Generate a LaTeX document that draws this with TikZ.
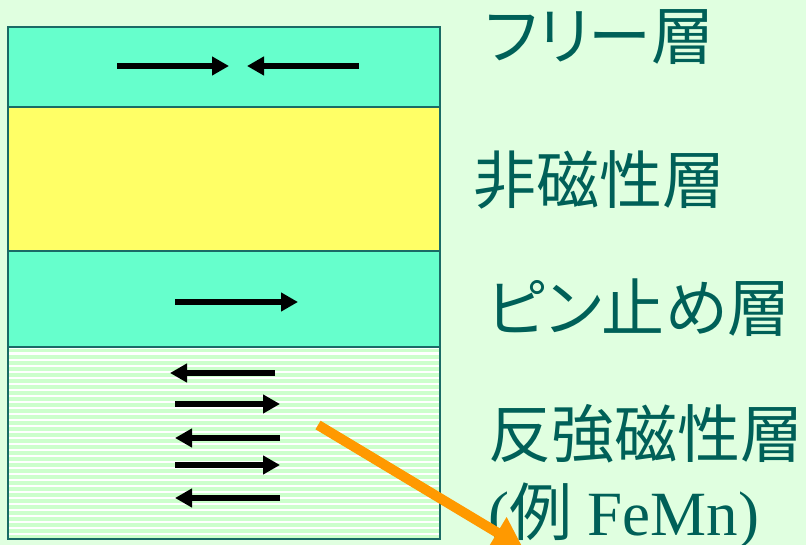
\documentclass[tikz,border=0pt]{standalone}
\usepackage{fontspec}
\setmainfont{Liberation Serif}
\newfontfamily\jp{Noto Sans CJK JP}
\newfontfamily\jpp[RawFeature=+palt]{Noto Sans CJK JP}
\usetikzlibrary{arrows.meta}
\definecolor{bgc}{HTML}{E0FFE0}
\definecolor{ferro}{HTML}{66FFCC}
\definecolor{nonmag}{HTML}{FFFF66}
\definecolor{stripec}{HTML}{CCFFCC}
\definecolor{edgec}{HTML}{1A6B66}
\definecolor{txtc}{HTML}{006058}
\definecolor{orangec}{HTML}{FF9900}
\tikzset{
  layer/.style={draw=edgec, line width=2pt},
  spin/.style={line width=5.5pt, -{Triangle[length=17pt,width=18pt]}},
  lbl/.style={text=txtc, inner sep=0pt, font=\jp\fontsize{63}{63}\selectfont},
  pointer/.style={draw=orangec, line width=10pt, -{Triangle[length=30pt,width=34pt]}}
}
\begin{document}
\begin{tikzpicture}[x=1pt,y=-1pt]
\fill[bgc] (0,0) rectangle (806,545);
\useasboundingbox (0,0) rectangle (806,545);
% antiferromagnetic striped layer
\begin{scope}
\clip (8,347) rectangle (440,539);
\fill[white] (8,347) rectangle (440,539);
\foreach \y in {349,355,...,541} \fill[stripec] (8,\y) rectangle (440,\y+3.5);
\end{scope}
\fill[ferro] (8,27) rectangle (440,107);
\fill[nonmag] (8,107) rectangle (440,251);
\fill[ferro] (8,251) rectangle (440,347);
\draw[layer] (8,27) rectangle (440,107);
\draw[layer] (8,107) rectangle (440,251);
\draw[layer] (8,251) rectangle (440,347);
\draw[layer] (8,347) rectangle (440,539);
% spins
\draw[spin] (117,66) -- (229,66);
\draw[spin] (359,66) -- (247,66);
\draw[spin] (175,302) -- (298,302);
\draw[spin] (275,373) -- (170,373);
\draw[spin] (175,404) -- (280,404);
\draw[spin] (280,438) -- (175,438);
\draw[spin] (175,465) -- (280,465);
\draw[spin] (280,498) -- (175,498);
% labels
\node[lbl, anchor=west] (free) at (485,37) {\jpp フリー層};
\node[lbl, anchor=west] (spacer) at (473,180) {非磁性層};
\node[lbl, anchor=west] (pinned) at (487,308) {\jpp ピン止め層};
\node[lbl, anchor=west] (afm) at (488,434) {反強磁性層};
\node[lbl, anchor=base west] (example) at (488,535) {\rmfamily (\jp 例\rmfamily{} FeMn)};
\coordinate (tail) at (318,425);
\coordinate (tip) at (523,548);
\draw[pointer] (tail) -- (tip);
\end{tikzpicture}
\end{document}
